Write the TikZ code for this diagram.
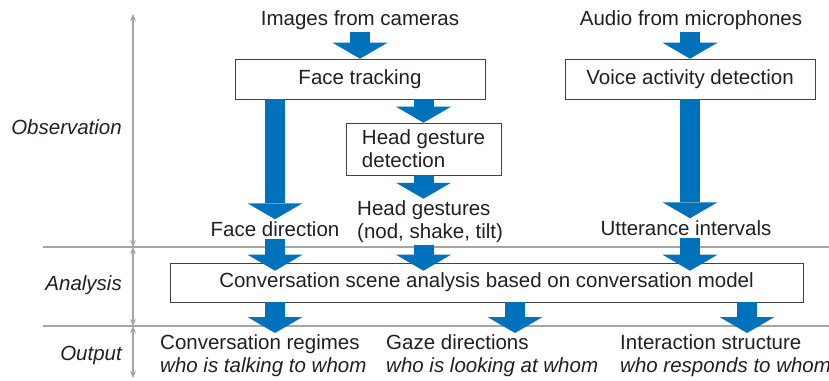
\documentclass[tikz,border=0pt]{standalone}
\usepackage{fontspec}
\setmainfont{Liberation Sans}
\usetikzlibrary{arrows.meta, positioning}
\definecolor{flowblue}{RGB}{0,114,188}
\definecolor{ink}{RGB}{35,31,32}
\definecolor{rulegray}{RGB}{165,165,165}

\begin{document}
\begin{tikzpicture}[x=1pt, y=-1pt,
    every node/.style={text=ink, inner sep=2pt,
        font=\fontsize{20.5}{23}\selectfont},
    box/.style={draw=ink!85, semithick, minimum height=40pt},
    flow/.style={draw=flowblue, line width=20pt,
        -{Triangle[length=16pt,width=55pt,line width=0pt]}},
    scale axis/.style={draw=rulegray, line width=1.2pt,
        {Stealth[length=7pt,width=6pt]}-{Stealth[length=7pt,width=6pt]}},
    rule line/.style={draw=rulegray, line width=1.2pt},
    stage/.style={anchor=east, font=\fontsize{20.5}{23}\selectfont\itshape}]
    \useasboundingbox (0,0) rectangle (829,380);

    % stages on the left
    \coordinate (a0) at (133,14);
    \coordinate (a1) at (133,247);
    \coordinate (a2) at (133,326);
    \coordinate (a3) at (133,378);
    \draw[rule line] (43,247) -- (829,247);
    \draw[rule line] (43,326) -- (829,326);
    \draw[scale axis] (a0) -- (a1);
    \draw[scale axis] (a1) -- (a2);
    \draw[scale axis] (a2) -- (a3);
    \node[stage] (obs) at (124,127) {Observation};
    \node[stage] (ana) at (124,285) {Analysis};
    \node[stage] (outp) at (124,355) {Output};

    % observation
    \node (cams) at (360,20) {Images from cameras};
    \node (mics) at (691,20) {Audio from microphones};
    \node[box, minimum width=250pt] (track) at (360,79) {Face tracking};
    \node[box, minimum width=250pt] (vad) at (690,79) {Voice activity detection};
    \node[box, minimum width=155pt, minimum height=52pt, align=left] (hgd)
        at (423.5,149) {Head gesture\\detection};
    \node (fdir) at (275,229) {Face direction};
    \node[anchor=west, align=left] (hges) at (355,222) {Head gestures\\(nod, shake, tilt)};
    \node (utt) at (686,228) {Utterance intervals};

    % analysis
    \node[box, minimum width=633pt, minimum height=39pt] (csa) at (486.5,282.5)
        {Conversation scene analysis based on conversation model};

    % output
    \node[anchor=west, align=left] (reg) at (158,356)
        {Conversation regimes\\\textit{who is talking to whom}};
    \node[anchor=west, align=left] (gaze) at (384,356)
        {Gaze directions\\\textit{who is looking at whom}};
    \node[anchor=west, align=left] (inter) at (618,356)
        {Interaction structure\\\textit{who responds to whom}};
    \coordinate (o1) at (275,333);
    \coordinate (o2) at (515,333);
    \coordinate (o3) at (747,333);

    \draw[flow] (cams.south) -- (track.north);
    \draw[flow] (mics.south -| vad) -- (vad.north);
    \draw[flow] (track.south -| fdir) -- (fdir.north);
    \draw[flow] (track.south -| hgd) -- (hgd.north);
    \draw[flow] (hgd.south) -- (hges.north -| hgd);
    \draw[flow] (vad.south) -- (utt.north -| vad);
    \draw[flow, shorten >=-8pt] (fdir.south) -- (csa.north -| fdir);
    \draw[flow, shorten >=-8pt] (hges.south -| hgd) -- (csa.north -| hgd);
    \draw[flow, shorten >=-8pt] (utt.south -| vad) -- (csa.north -| vad);
    \draw[flow] (csa.south -| o1) -- (o1);
    \draw[flow] (csa.south -| o2) -- (o2);
    \draw[flow] (csa.south -| o3) -- (o3);
\end{tikzpicture}
\end{document}
